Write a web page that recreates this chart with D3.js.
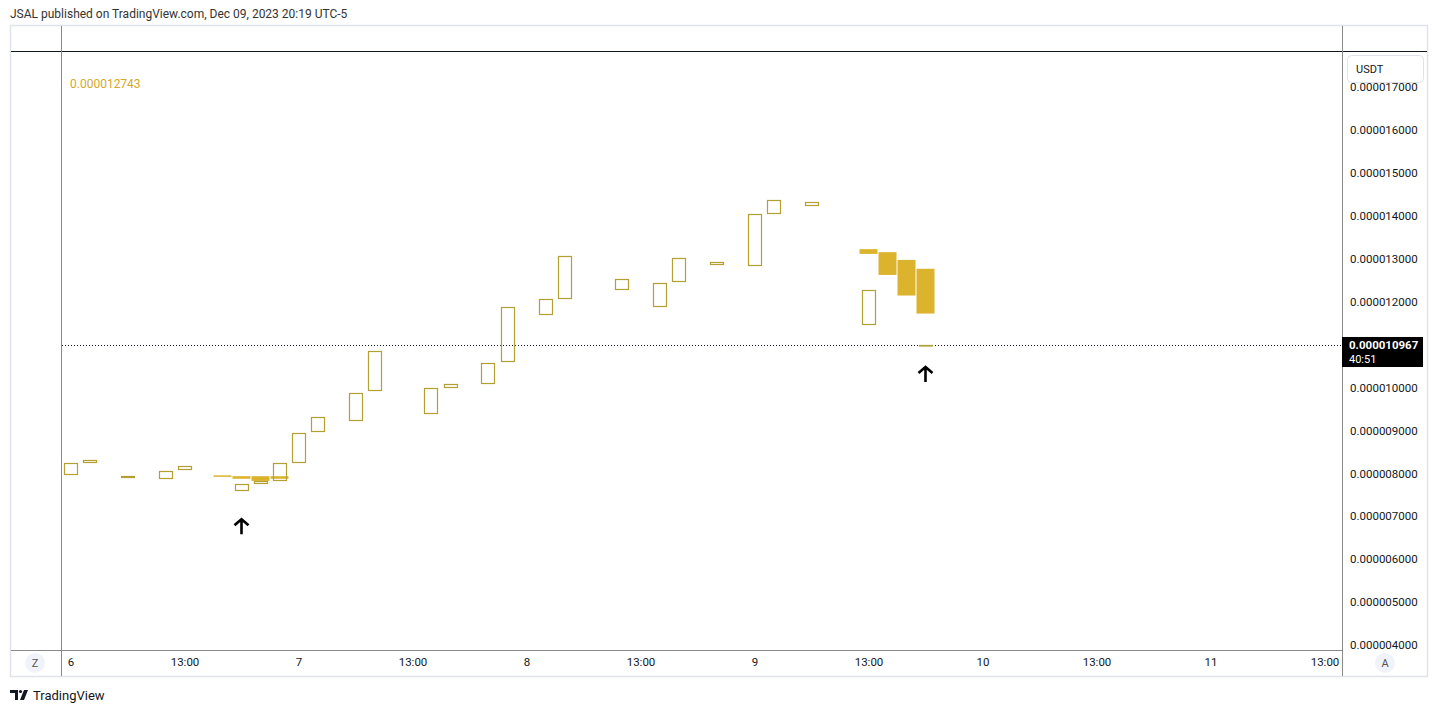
<!DOCTYPE html>
<html><head><meta charset="utf-8">
<script src="https://cdn.jsdelivr.net/npm/d3@7"></script>
<style>
html,body{margin:0;padding:0;background:#fff;}
svg{display:block;font-family:Roboto,"Noto Sans",sans-serif;}
</style></head>
<body>
<svg id="c" width="1438" height="713"></svg>
<script>
// ---- data (2h bars from Dec 6 01:00, UTC-5; index = bar number) ----
const mainIndex = [0,1,3,5,6,9,10,11,12,13,15,16,19,20,22,23,25,26,29,31,32,34,36,37,39,42,45];
const mainOpen  = [7.92e-6,8.21e-6,7.86e-6,7.84e-6,8.05e-6,7.55e-6,7.72e-6,7.78e-6,8.21e-6,8.93e-6,9.21e-6,9.89e-6,9.35e-6,9.95e-6,10.05e-6,10.56e-6,11.66e-6,12.03e-6,12.24e-6,11.85e-6,12.43e-6,12.82e-6,12.80e-6,14.01e-6,14.20e-6,11.42e-6,10.94e-6];
const mainClose = [8.21e-6,8.28e-6,7.91e-6,8.02e-6,8.14e-6,7.72e-6,7.80e-6,8.21e-6,8.91e-6,9.28e-6,9.86e-6,10.82e-6,9.96e-6,10.05e-6,10.54e-6,11.85e-6,12.03e-6,13.03e-6,12.50e-6,12.41e-6,12.99e-6,12.89e-6,14.01e-6,14.34e-6,14.29e-6,12.24e-6,10.967e-6];

const fillIndex = [8,9,10,11,42,43,44,45];
const fillOpen  = [7.93e-6,7.91e-6,7.91e-6,7.91e-6,13.20e-6,13.13e-6,12.95e-6,12.743e-6];
const fillClose = [7.925e-6,7.85e-6,7.80e-6,7.85e-6,13.09e-6,12.60e-6,12.12e-6,11.70e-6];

const arrowIndex = [9,45];
const arrowPrice = [6.93e-6,10.48e-6];

const yTicks = [4e-6,5e-6,6e-6,7e-6,8e-6,9e-6,10e-6,12e-6,13e-6,14e-6,15e-6,16e-6,17e-6];
const xTickIndex = [0,6,12,18,24,30,36,42,48,54,60,66];
const xTickLabels = ["6","13:00","7","13:00","8","13:00","9","13:00","10","13:00","11","13:00"];

const lastPrice = 10.967e-6;
const legendValue = "0.000012743";
const countdown = "40:51";
const header = "JSAL published on TradingView.com, Dec 09, 2023 20:19 UTC-5";

// ---- layout ----
const svg = d3.select("#c");
const L = 62, R = 1342, T = 51, B = 651;
const x = d3.scaleLinear().domain([(62-70.5)/19, (1342-70.5)/19]).range([L, R]);
const y = d3.scaleLinear().domain([4e-6, 16e-6]).range([644, 129]);
const fmt = v => v.toFixed(9);

const hollowCol = "#b3a033", fillCol = "#dbb32d", textCol = "#131722";

// header
svg.append("text").attr("x",10).attr("y",18).attr("font-size",12).attr("fill","#333").text(header);

// frame
svg.append("rect").attr("x",10.5).attr("y",25.5).attr("width",1417).attr("height",651)
  .attr("fill","#fff").attr("stroke","#e0e3eb").attr("stroke-width",1.5);

// clip for plot
svg.append("clipPath").attr("id","pc").append("rect").attr("x",L).attr("y",T).attr("width",R-L).attr("height",B-T);

// lines
svg.append("line").attr("x1",11).attr("x2",1427).attr("y1",51.5).attr("y2",51.5).attr("stroke","#131722").attr("stroke-width",1);
svg.append("line").attr("x1",61.5).attr("x2",61.5).attr("y1",26).attr("y2",676).attr("stroke","#8a8a8a");
svg.append("line").attr("x1",1342.5).attr("x2",1342.5).attr("y1",26).attr("y2",676).attr("stroke","#8a8a8a");
svg.append("line").attr("x1",11).attr("x2",1342).attr("y1",650.5).attr("y2",650.5).attr("stroke","#8a8a8a");

// y axis labels
const yAxis = d3.axisRight(y).tickValues(yTicks).tickFormat(fmt).tickSize(0).tickPadding(0);
const ya = svg.append("g").attr("transform",`translate(1350,1)`).call(yAxis);
ya.select(".domain").remove();
ya.selectAll("text").attr("font-size",11.5).attr("fill",textCol).attr("font-family","Roboto,sans-serif");

// x axis labels
const xAxis = d3.axisBottom(x).tickValues(xTickIndex).tickFormat((d,i)=>xTickLabels[i]).tickSize(0).tickPadding(0);
const xa = svg.append("g").attr("transform",`translate(0,658)`).call(xAxis);
xa.select(".domain").remove();
xa.selectAll("text").attr("font-size",11.5).attr("fill",textCol).attr("font-family","Roboto,sans-serif");

// Z / A buttons
[[35,"Z"],[1385,"A"]].forEach(([cx,t])=>{
  svg.append("circle").attr("cx",cx).attr("cy",663).attr("r",10).attr("fill","#f0f3fa");
  svg.append("text").attr("x",cx).attr("y",667).attr("text-anchor","middle").attr("font-size",11).attr("fill","#555").text(t);
});

// USDT box
svg.append("rect").attr("x",1347.5).attr("y",55.5).attr("width",76).attr("height",27).attr("rx",4)
  .attr("fill","#fff").attr("stroke","#e0e3eb");
svg.append("text").attr("x",1356).attr("y",73).attr("font-size",11).attr("fill",textCol).text("USDT");

const plot = svg.append("g").attr("clip-path","url(#pc)");

// last price dotted line
plot.append("line").attr("x1",L).attr("x2",R).attr("y1",Math.round(y(lastPrice))+0.5).attr("y2",Math.round(y(lastPrice))+0.5)
  .attr("stroke","#131722").attr("stroke-dasharray","1,2");

// filled series
const fillData = fillIndex.map((d,i)=>({i:d,o:fillOpen[i],c:fillClose[i]}));
plot.selectAll("rect.f").data(fillData).join("rect").attr("class","f")
  .attr("x",d=>x(d.i)-9).attr("width",18)
  .attr("y",d=>Math.min(y(d.o),y(d.c)))
  .attr("height",d=>Math.max(1.5,Math.abs(y(d.o)-y(d.c))))
  .attr("fill",fillCol);

// hollow main series
const mainData = mainIndex.map((d,i)=>({i:d,o:mainOpen[i],c:mainClose[i]}));
plot.selectAll("rect.m").data(mainData).join("rect").attr("class","m")
  .attr("x",d=>Math.round(x(d.i)-7)+0.5).attr("width",13)
  .attr("y",d=>Math.round(Math.min(y(d.o),y(d.c)))+0.5)
  .attr("height",d=>Math.max(0.5,Math.round(Math.abs(y(d.o)-y(d.c)))-1))
  .attr("fill","none").attr("stroke",hollowCol).attr("stroke-width",1.2);

// arrows
arrowIndex.forEach((ai,k)=>{
  const ax = x(ai), ay = y(arrowPrice[k]);
  plot.append("path").attr("d",`M${ax},${ay+1}L${ax},${ay+16}M${ax-7},${ay+7}L${ax},${ay+1}L${ax+7},${ay+7}`)
    .attr("fill","none").attr("stroke","#000").attr("stroke-width",2.6).attr("stroke-linejoin","miter");
});

// legend value
svg.append("text").attr("x",70).attr("y",88).attr("font-size",12).attr("fill","#d4a72c").text(legendValue);

// price label
const py = y(lastPrice);
svg.append("rect").attr("x",1342).attr("y",py-8).attr("width",81).attr("height",30).attr("fill","#000");
svg.append("text").attr("x",1349).attr("y",py+4).attr("font-size",11.5).attr("font-weight","bold").attr("fill","#fff").text(fmt(lastPrice));
svg.append("text").attr("x",1349).attr("y",py+18).attr("font-size",11).attr("fill","#fff").text(countdown);

// footer logo
const lg = svg.append("g").attr("transform","translate(10,690)");
lg.append("path").attr("d","M0,0H8V10H5V3H0Z").attr("fill","#131722");
lg.append("circle").attr("cx",10.5).attr("cy",1.5).attr("r",1.6).attr("fill","#131722");
lg.append("path").attr("d","M14,0H18L14,10H10Z").attr("fill","#131722");
svg.append("text").attr("x",33).attr("y",700).attr("font-size",13).attr("fill","#131722").text("TradingView");
</script>
</body></html>
